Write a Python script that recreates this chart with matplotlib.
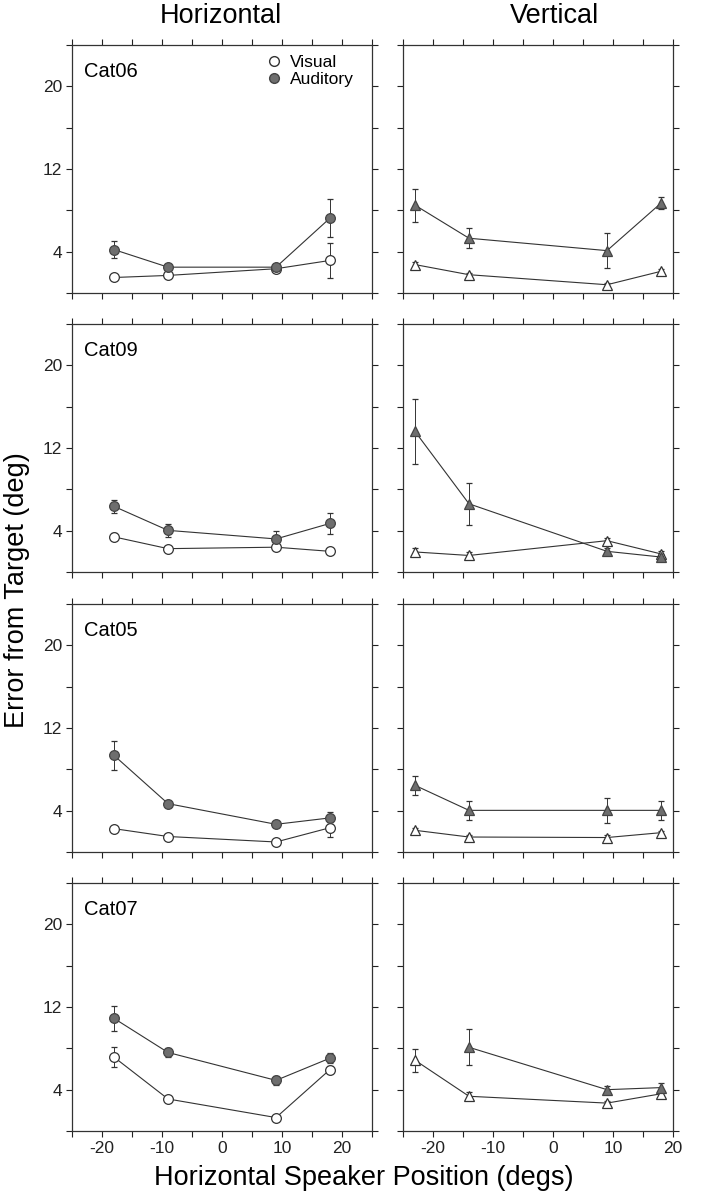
import numpy as np
import matplotlib
matplotlib.use("Agg")
import matplotlib.pyplot as plt
from matplotlib.lines import Line2D

plt.rcParams['font.family'] = ['Liberation Sans', 'DejaVu Sans']

cats = ['Cat06', 'Cat09', 'Cat05', 'Cat07']

# horizontal speaker positions (deg)
xh = [-18, -9, 9, 18]
xv = [-23, -14, 9, 18]

# Horizontal column: visual / auditory means and errors
h_vis = [[1.5, 1.7, 2.35, 3.15], [3.4, 2.26, 2.4, 2.0],
         [2.26, 1.5, 0.97, 2.35], [7.15, 3.1, 1.3, 5.95]]
h_vis_err = [[0.25, 0.2, 0.25, 1.7], [0.35, 0.15, 0.3, 0.3],
             [0.3, 0.2, 0.2, 0.9], [0.98, 0.3, 0.2, 0.3]]
h_aud = [[4.2, 2.5, 2.5, 7.25], [6.35, 4.03, 3.2, 4.7],
         [9.35, 4.68, 2.68, 3.3], [10.9, 7.6, 4.9, 7.05]]
h_aud_err = [[0.85, 0.3, 0.3, 1.8], [0.65, 0.65, 0.8, 1.0],
             [1.37, 0.3, 0.3, 0.6], [1.2, 0.4, 0.4, 0.5]]

# Vertical column
v_vis = [[2.75, 1.77, 0.8, 2.1], [1.94, 1.6, 3.03, 1.75],
         [2.1, 1.45, 1.4, 1.87], [6.85, 3.36, 2.7, 3.6]]
v_vis_err = [[0.25, 0.2, 0.2, 0.25], [0.35, 0.3, 0.3, 0.25],
             [0.2, 0.2, 0.2, 0.2], [1.1, 0.4, 0.25, 0.3]]
v_aud = [[8.5, 5.3, 4.1, 8.7], [13.6, 6.6, 2.0, 1.45],
         [6.45, 4.03, 4.03, 4.03], [np.nan, 8.1, 4.0, 4.2]]
v_aud_err = [[1.6, 0.95, 1.7, 0.6], [3.1, 2.05, 0.3, 0.3],
             [0.9, 0.9, 1.2, 0.9], [0, 1.75, 0.4, 0.4]]

W, H = 711, 1199
fig = plt.figure(figsize=(W / 100, H / 100), dpi=100)

tops = [45, 324, 604, 883]
ph = 248
lc = '#333333'
gray = '#6e6e6e'
ms = 7


def style(ax, xmax, left, bottom):
    ax.set_xlim(-25, xmax)
    ax.set_ylim(0, 24)
    xt = np.arange(-25, xmax + 0.1, 5)
    ax.set_xticks(xt)
    ax.set_xticklabels([str(int(v)) if v % 10 == 0 else '' for v in xt] if bottom else [])
    yt = np.arange(0, 25, 4)
    ax.set_yticks(yt)
    ax.set_yticklabels([str(v) if v in (4, 12, 20) else '' for v in yt] if left else [])
    ax.tick_params(direction='out', length=4, width=0.8, top=True, right=True,
                   labelsize=12.5, colors='#222222', pad=3)
    for s in ax.spines.values():
        s.set_linewidth(0.9)
        s.set_color('#333333')


for i in range(4):
    y0 = 1 - (tops[i] + ph) / H
    axh = fig.add_axes([72 / W, y0, 300 / W, ph / H])
    axv = fig.add_axes([403 / W, y0, 270 / W, ph / H])

    axh.errorbar(xh, h_vis[i], yerr=h_vis_err[i], fmt='-o', color=lc, lw=0.8,
                 mfc='white', mec='#333333', ms=ms, mew=0.9, elinewidth=0.7,
                 capsize=2, capthick=0.7, zorder=3)
    axh.errorbar(xh, h_aud[i], yerr=h_aud_err[i], fmt='-o', color=lc, lw=0.8,
                 mfc=gray, mec='#444444', ms=ms, mew=0.9, elinewidth=0.7,
                 capsize=2, capthick=0.7, zorder=3)
    axv.errorbar(xv, v_vis[i], yerr=v_vis_err[i], fmt='-^', color=lc, lw=0.8,
                 mfc='white', mec='#333333', ms=ms, mew=0.9, elinewidth=0.7,
                 capsize=2, capthick=0.7, zorder=3)
    axv.errorbar(xv, v_aud[i], yerr=v_aud_err[i], fmt='-^', color=lc, lw=0.8,
                 mfc=gray, mec='#444444', ms=ms, mew=0.9, elinewidth=0.7,
                 capsize=2, capthick=0.7, zorder=3)

    style(axh, 25, True, i == 3)
    style(axv, 20, False, i == 3)
    axh.text(0.04, 0.93, cats[i], transform=axh.transAxes, fontsize=14.5,
             va='top', ha='left')

    if i == 0:
        handles = [Line2D([], [], ls='none', marker='o', mfc='white', mec='#333333', ms=ms),
                   Line2D([], [], ls='none', marker='o', mfc=gray, mec='#444444', ms=ms)]
        axh.legend(handles, ['Visual', 'Auditory'], loc='upper right',
                   frameon=False, fontsize=12.5, handlelength=0.8,
                   handletextpad=0.5, labelspacing=0.1,
                   bbox_to_anchor=(0.97, 1.0), borderaxespad=0.15)

fig.text(221 / W, 1 - 16 / H, 'Horizontal', fontsize=19.5, ha='center', va='center')
fig.text(554 / W, 1 - 16 / H, 'Vertical', fontsize=19.5, ha='center', va='center')
fig.text(17 / W, 1 - 590 / H, 'Error from Target (deg)', fontsize=19.5,
         rotation=90, ha='center', va='center')
fig.text(364 / W, 1 - 1178 / H, 'Horizontal Speaker Position (degs)', fontsize=19.5,
         ha='center', va='center')

fig.savefig('out.png', dpi=100)
